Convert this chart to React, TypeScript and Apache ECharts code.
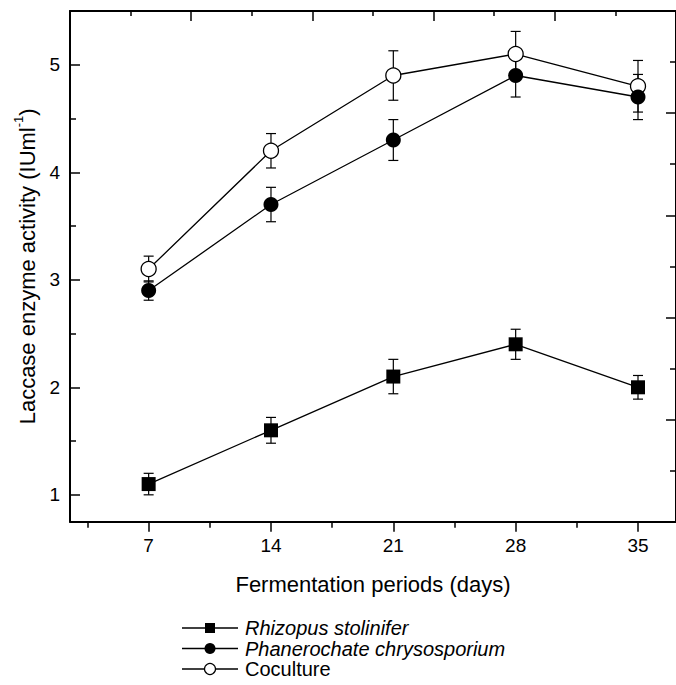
import React, { useEffect, useRef } from "react";
import * as echarts from "echarts";

const days = [7, 14, 21, 28, 35];
const rhizopus = [1.1, 1.6, 2.1, 2.4, 2.0];
const rhizopusErr = [0.1, 0.12, 0.16, 0.14, 0.11];
const phanero = [2.9, 3.7, 4.3, 4.9, 4.7];
const phaneroErr = [0.09, 0.16, 0.19, 0.2, 0.21];
const cocult = [3.1, 4.2, 4.9, 5.1, 4.8];
const cocultErr = [0.12, 0.16, 0.23, 0.21, 0.24];
const yTicks = [1, 2, 3, 4, 5];
const yMinorTicks = [1.5, 2.5, 3.5, 4.5];
const xMinorTicks = [3.5, 10.5, 17.5, 24.5, 31.5];
const seriesNames = ["Rhizopus stolinifer", "Phanerochate chrysosporium", "Coculture"];

const FONT = "'Liberation Sans', Arial, Helvetica, sans-serif";
const BLACK = "#000";

function errData(vals: number[], errs: number[]) {
  return days.map((d, i) => [d, vals[i] - errs[i], vals[i] + errs[i]]);
}

function errSeries(vals: number[], errs: number[], name: string) {
  return {
    type: "custom",
    name: name + " error",
    xAxisIndex: 0,
    yAxisIndex: 0,
    z: 1,
    silent: true,
    encode: { x: 0, y: [1, 2] },
    data: errData(vals, errs),
    renderItem: (params: any, api: any) => {
      const x = api.value(0);
      const lo = api.value(1);
      const hi = api.value(2);
      const pHi = api.coord([x, hi]);
      const pLo = api.coord([x, lo]);
      const w = 5;
      const style = { stroke: BLACK, lineWidth: 1.2 };
      return {
        type: "group",
        children: [
          { type: "line", shape: { x1: pHi[0], y1: pHi[1], x2: pLo[0], y2: pLo[1] }, style },
          { type: "line", shape: { x1: pHi[0] - w, y1: pHi[1], x2: pHi[0] + w, y2: pHi[1] }, style },
          { type: "line", shape: { x1: pLo[0] - w, y1: pLo[1], x2: pLo[0] + w, y2: pLo[1] }, style },
        ],
      };
    },
  };
}

function legendGraphic() {
  const rows = [628, 648.5, 669];
  const els: any[] = [];
  seriesNames.forEach((name, i) => {
    const y = rows[i];
    els.push({ type: "line", shape: { x1: 182, y1: y, x2: 238, y2: y }, style: { stroke: BLACK, lineWidth: 1.3 } });
    if (i === 0) {
      els.push({ type: "rect", shape: { x: 205, y: y - 5, width: 10, height: 10 }, style: { fill: BLACK } });
    } else if (i === 1) {
      els.push({ type: "circle", shape: { cx: 210, cy: y, r: 5.5 }, style: { fill: BLACK } });
    } else {
      els.push({ type: "circle", shape: { cx: 210, cy: y, r: 5.5 }, style: { fill: "#fff", stroke: BLACK, lineWidth: 1.2 } });
    }
    els.push({
      type: "text",
      x: 245,
      y: y,
      style: {
        text: name,
        fill: BLACK,
        font: `${i < 2 ? "italic " : ""}20px ${FONT}`,
        verticalAlign: "middle",
        align: "left",
      },
    });
  });
  return els;
}

export default function App() {
  const ref = useRef<HTMLDivElement>(null);
  useEffect(() => {
    if (!ref.current) return;
    const chart = echarts.init(ref.current, undefined, { renderer: "svg" });
    const xMin = 2.5;
    const xMax = 2.5 + 612 / 17.65;
    const option: any = {
      animation: false,
      backgroundColor: "#fff",
      textStyle: { fontFamily: FONT, color: BLACK },
      grid: { left: 70, top: 11, width: 612, height: 510.7, containLabel: false },
      xAxis: [
        {
          type: "value",
          position: "bottom",
          min: xMin,
          max: xMax,
          axisLine: { show: true, lineStyle: { color: BLACK, width: 2 } },
          axisTick: { show: true, customValues: days, length: 10, inside: false, lineStyle: { color: BLACK, width: 1.5 } },
          axisLabel: { show: true, customValues: days, fontSize: 19, color: BLACK, margin: 14, fontFamily: FONT },
          splitLine: { show: false },
          name: "Fermentation periods (days)",
          nameLocation: "middle",
          nameGap: 52,
          nameTextStyle: { fontSize: 22, color: BLACK, fontFamily: FONT },
        },
        {
          type: "value",
          position: "bottom",
          min: xMin,
          max: xMax,
          axisLine: { show: false },
          axisTick: { show: true, customValues: xMinorTicks, length: 6, inside: false, lineStyle: { color: BLACK, width: 1.5 } },
          axisLabel: { show: false },
          splitLine: { show: false },
        },
        {
          type: "value",
          position: "top",
          min: 0,
          max: 10,
          interval: 2,
          axisLine: { show: true, lineStyle: { color: BLACK, width: 2 } },
          axisTick: { show: true, inside: true, length: 10, lineStyle: { color: BLACK, width: 1.5 } },
          minorTick: { show: true, splitNumber: 2, length: 5, lineStyle: { color: BLACK, width: 1.5 } },
          axisLabel: { show: false },
          splitLine: { show: false },
          minorSplitLine: { show: false },
        },
      ],
      yAxis: [
        {
          type: "value",
          position: "left",
          min: 0.75,
          max: 5.5,
          axisLine: { show: true, lineStyle: { color: BLACK, width: 2 } },
          axisTick: { show: true, customValues: yTicks, inside: true, length: 10, lineStyle: { color: BLACK, width: 1.5 } },
          axisLabel: { show: true, customValues: yTicks, fontSize: 19, color: BLACK, margin: 10, fontFamily: FONT },
          splitLine: { show: false },
          name: "{a|Laccase enzyme activity (IUml}{s|-1}{a|)}",
          nameLocation: "middle",
          nameGap: 32,
          nameRotate: 90,
          nameTextStyle: {
            color: BLACK,
            fontFamily: FONT,
            rich: {
              a: { fontSize: 22, color: BLACK, fontFamily: FONT, lineHeight: 26, verticalAlign: "bottom" },
              s: { fontSize: 13, color: BLACK, fontFamily: FONT, lineHeight: 26, verticalAlign: "top" },
            },
          },
        },
        {
          type: "value",
          position: "left",
          min: 0.75,
          max: 5.5,
          axisLine: { show: false },
          axisTick: { show: true, customValues: yMinorTicks, inside: true, length: 6, lineStyle: { color: BLACK, width: 1.5 } },
          axisLabel: { show: false },
          splitLine: { show: false },
        },
        {
          type: "value",
          position: "right",
          min: 0,
          max: 5,
          interval: 1,
          axisLine: { show: true, lineStyle: { color: BLACK, width: 2 } },
          axisTick: { show: true, inside: true, length: 10, lineStyle: { color: BLACK, width: 1.5 } },
          minorTick: { show: true, splitNumber: 2, length: 6, lineStyle: { color: BLACK, width: 1.5 } },
          axisLabel: { show: false },
          splitLine: { show: false },
          minorSplitLine: { show: false },
        },
      ],
      graphic: legendGraphic(),
      series: [
        errSeries(cocult, cocultErr, seriesNames[2]),
        errSeries(phanero, phaneroErr, seriesNames[1]),
        errSeries(rhizopus, rhizopusErr, seriesNames[0]),
        {
          type: "line",
          name: seriesNames[2],
          xAxisIndex: 0,
          yAxisIndex: 0,
          z: 3,
          data: days.map((d, i) => [d, cocult[i]]),
          symbol: "circle",
          symbolSize: 15,
          showAllSymbol: true,
          lineStyle: { color: BLACK, width: 1.3 },
          itemStyle: { color: "#fff", borderColor: BLACK, borderWidth: 1.3 },
        },
        {
          type: "line",
          name: seriesNames[1],
          xAxisIndex: 0,
          yAxisIndex: 0,
          z: 4,
          data: days.map((d, i) => [d, phanero[i]]),
          symbol: "circle",
          symbolSize: 15,
          lineStyle: { color: BLACK, width: 1.3 },
          itemStyle: { color: BLACK, borderColor: BLACK, borderWidth: 0 },
        },
        {
          type: "line",
          name: seriesNames[0],
          xAxisIndex: 0,
          yAxisIndex: 0,
          z: 5,
          data: days.map((d, i) => [d, rhizopus[i]]),
          symbol: "rect",
          symbolSize: 14,
          lineStyle: { color: BLACK, width: 1.3 },
          itemStyle: { color: BLACK, borderWidth: 0 },
        },
      ],
    };
    chart.setOption(option);
    return () => chart.dispose();
  }, []);
  return (
    <div
      ref={ref}
      style={{ position: "fixed", left: 0, top: 0, width: 676, height: 685, background: "#fff" }}
    />
  );
}
